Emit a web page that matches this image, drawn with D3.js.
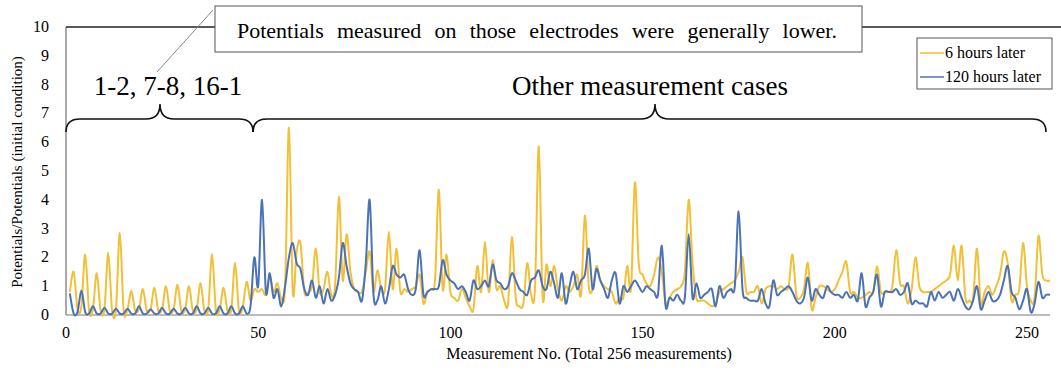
<!DOCTYPE html>
<html>
<head>
<meta charset="utf-8">
<script src="https://d3js.org/d3.v7.min.js"></script>
<style>
  body { margin: 0; background: #fff; }
  svg text { font-family: "Liberation Serif", "Times New Roman", serif; fill: #000; }
</style>
</head>
<body>
<div id="my_dataviz"></div>
<script>
var width = 1061
var height = 371

// 6 hours later (measurements 1..256)
var sixHours = [
  0.8,1.5,0.2,0.3,2.1,0.15,0.2,1.45,0.15,0.2,
  2.15,0.15,0.2,2.85,0.15,0.2,0.83,0.15,0.2,0.9,
  0.15,0.2,0.95,0.15,0.2,1.0,0.15,0.2,1.05,0.15,
  0.2,1.0,0.15,0.2,1.1,0.15,0.2,2.1,0.15,0.2,
  0.95,0.15,0.2,1.8,0.15,0.3,1.15,0.5,0.9,0.8,
  0.9,0.7,1.3,0.8,1.1,0.6,1.0,6.5,0.8,2.2,
  2.5,0.8,0.8,1.0,2.3,0.8,0.9,1.5,0.7,1.0,
  4.1,1.2,2.8,1.5,0.9,0.8,0.8,1.5,2.2,0.8,
  1.55,0.9,0.9,2.9,0.9,2.3,0.8,0.9,0.8,0.9,
  1.0,1.4,0.4,0.8,0.9,1.2,4.35,0.9,2.1,0.8,
  0.6,0.5,0.9,0.6,0.3,0.2,1.7,0.8,2.55,0.8,
  1.9,0.9,1.0,0.5,0.4,2.7,0.6,0.3,0.4,1.8,
  0.7,0.9,5.85,0.6,1.75,1.0,1.7,0.9,0.5,1.0,
  0.8,1.0,1.4,0.7,3.45,1.0,0.9,1.7,1.2,1.0,
  0.9,0.8,0.4,0.6,0.6,1.7,0.9,4.6,1.8,1.4,
  1.1,1.0,1.4,2.0,1.5,0.4,0.6,0.8,0.9,1.0,
  1.5,4.0,1.8,0.6,0.5,0.5,0.4,0.3,0.4,0.8,
  0.9,1.0,1.1,1.2,1.5,2.0,0.8,0.8,0.8,1.0,
  0.4,0.9,1.0,1.0,0.9,1.0,0.9,1.0,2.1,0.7,
  0.6,0.9,1.8,0.2,0.6,1.0,1.0,0.9,0.8,0.9,
  1.2,1.5,1.85,0.8,0.8,0.6,0.6,0.7,0.8,0.8,
  1.7,0.8,0.8,0.8,1.0,2.25,1.1,1.0,0.4,0.9,
  2.0,1.0,0.8,0.8,0.8,0.9,1.0,1.1,1.2,1.4,
  2.4,1.2,2.4,0.6,0.5,0.6,2.3,0.4,0.8,1.0,
  0.7,1.0,1.4,2.2,1.8,0.5,0.7,0.9,2.5,1.0,
  0.5,0.6,2.75,1.4,1.2,1.2
]

// 120 hours later
var hundredTwentyHours = [
  0.75,0.05,0.1,0.85,0.1,0.05,0.3,0.05,0.05,0.25,
  0.05,0.05,0.22,0.05,0.05,0.22,0.05,0.05,0.3,0.05,
  0.05,0.2,0.05,0.05,0.25,0.05,0.05,0.22,0.05,0.05,
  0.25,0.05,0.05,0.3,0.05,0.05,0.25,0.05,0.05,0.3,
  0.05,0.05,0.3,0.05,0.05,0.3,0.05,0.3,2.0,1.0,
  4.0,0.8,1.45,0.6,0.9,0.3,1.0,2.0,2.5,1.8,
  1.6,0.9,0.7,1.2,0.6,1.0,0.4,0.9,0.5,0.7,
  1.3,2.5,1.7,1.1,0.9,0.8,0.5,1.8,4.0,0.7,
  0.5,1.0,0.4,0.9,1.7,1.4,1.3,1.4,0.9,0.7,
  0.9,2.25,0.7,0.8,0.9,0.9,1.0,1.9,1.4,1.2,
  1.1,0.9,1.0,0.8,0.5,1.2,0.9,1.0,1.2,1.0,
  1.75,1.2,1.1,0.9,1.0,1.45,1.2,0.9,0.8,0.7,
  1.2,1.3,1.55,1.0,0.9,1.5,1.1,0.6,1.45,0.4,
  1.0,1.5,0.9,1.2,1.4,2.3,0.9,1.6,1.2,0.9,
  0.6,1.2,1.45,0.4,1.0,0.8,1.0,1.2,1.0,0.8,
  1.0,0.9,0.8,0.7,2.4,0.3,0.6,0.5,0.7,0.5,
  0.6,2.8,0.6,1.1,0.6,0.7,0.8,0.9,0.3,1.0,
  0.6,0.8,0.9,1.0,3.6,0.9,0.6,0.5,0.5,0.5,
  0.9,0.4,0.3,1.2,0.7,0.8,0.9,1.0,0.8,0.5,
  0.4,0.6,1.3,0.5,0.9,0.7,0.6,1.0,0.8,0.7,
  0.7,0.6,0.8,0.6,0.7,0.5,1.45,0.3,0.6,0.8,
  1.4,0.3,0.8,0.8,0.8,0.9,0.7,0.8,1.1,0.4,
  0.5,0.4,0.4,0.3,0.8,0.5,0.8,0.6,0.7,0.8,
  0.5,0.9,0.6,0.3,0.2,0.5,1.0,0.2,0.5,0.8,
  0.5,0.5,0.7,1.2,1.7,0.8,0.6,0.2,0.5,0.9,
  0.1,0.4,1.15,0.6,0.7,0.7
]

var seriesNames = ["6 hours later", "120 hours later"]
var seriesColors = ["#F2C037", "#4A72B8"]
var xTicks = [0, 50, 100, 150, 200, 250]
var yTicks = [0, 1, 2, 3, 4, 5, 6, 7, 8, 9, 10]

var svg = d3.select("#my_dataviz")
  .append("svg")
    .attr("width", width)
    .attr("height", height)
    .attr("font-family", "Liberation Serif, serif")

var x = d3.scaleLinear().domain([0, 256]).range([66, 1050])
var y = d3.scaleLinear().domain([0, 10]).range([315, 27])

// axes (gray lines, no tick marks)
svg.append("line")
  .attr("x1", x(0)).attr("x2", x(256))
  .attr("y1", y(0)).attr("y2", y(0))
  .attr("stroke", "#a6a6a6").attr("stroke-width", 1.5)

svg.append("line")
  .attr("x1", x(0)).attr("x2", x(0))
  .attr("y1", y(0)).attr("y2", y(10))
  .attr("stroke", "#8c8c8c").attr("stroke-width", 1.5)

svg.selectAll(".ytick")
  .data(yTicks)
  .enter().append("text")
    .attr("class", "ytick")
    .attr("x", 49)
    .attr("y", function(d){ return y(d) + 5 })
    .attr("text-anchor", "end")
    .style("font-size", "16px")
    .text(function(d){ return d })

svg.selectAll(".xtick")
  .data(xTicks)
  .enter().append("text")
    .attr("class", "xtick")
    .attr("x", function(d){ return x(d) })
    .attr("y", 338)
    .attr("text-anchor", "middle")
    .style("font-size", "16px")
    .text(function(d){ return d })

svg.append("text")
  .attr("x", 589)
  .attr("y", 359)
  .attr("text-anchor", "middle")
  .style("font-size", "16px")
  .text("Measurement No. (Total 256 measurements)")

svg.append("text")
  .attr("transform", "translate(22," + 172 + ") rotate(-90)")
  .attr("text-anchor", "middle")
  .style("font-size", "15px")
  .text("Potentials/Potentials (initial condition)")

// top frame line
svg.append("path")
  .attr("d", "M" + x(0) + "," + y(10) + " L1061," + y(10))
  .attr("stroke", "#222").attr("stroke-width", 1.5).attr("fill", "none")

// data lines
var line = d3.line()
  .x(function(d, i){ return x(i + 1) })
  .y(function(d){ return y(d) })
  .curve(d3.curveCardinal.tension(0))

svg.append("path")
  .datum(sixHours)
  .attr("d", line)
  .attr("fill", "none")
  .attr("stroke", seriesColors[0])
  .attr("stroke-width", 2)

svg.append("path")
  .datum(hundredTwentyHours)
  .attr("d", line)
  .attr("fill", "none")
  .attr("stroke", seriesColors[1])
  .attr("stroke-width", 2)

// curly braces
function brace(x1, x2, cx, yEnd, yMid, yTip) {
  var r = 14
  return "M" + x1 + "," + yEnd +
    " Q" + x1 + "," + yMid + " " + (x1 + r) + "," + yMid +
    " L" + (cx - r) + "," + yMid +
    " Q" + cx + "," + yMid + " " + cx + "," + yTip +
    " Q" + cx + "," + yMid + " " + (cx + r) + "," + yMid +
    " L" + (x2 - r) + "," + yMid +
    " Q" + x2 + "," + yMid + " " + x2 + "," + yEnd
}

svg.append("path")
  .attr("d", brace(66, 253, 160, 132, 119, 104))
  .attr("fill", "none").attr("stroke", "#111").attr("stroke-width", 1.6)

svg.append("path")
  .attr("d", brace(253, 1046, 655, 132, 119, 104))
  .attr("fill", "none").attr("stroke", "#111").attr("stroke-width", 1.6)

svg.append("text")
  .attr("x", 168).attr("y", 95)
  .attr("text-anchor", "middle")
  .style("font-size", "27px")
  .text("1-2, 7-8, 16-1")

svg.append("text")
  .attr("x", 650).attr("y", 95)
  .attr("text-anchor", "middle")
  .style("font-size", "27px")
  .text("Other measurement cases")

// callout
svg.append("line")
  .attr("x1", 213).attr("y1", 10)
  .attr("x2", 157).attr("y2", 72)
  .attr("stroke", "#888").attr("stroke-width", 1)

svg.append("rect")
  .attr("x", 215).attr("y", 6)
  .attr("width", 647).attr("height", 46)
  .attr("fill", "#fff")
  .attr("stroke", "#555").attr("stroke-width", 1)

var callout = svg.append("text")
  .attr("x", 237).attr("y", 38)
  .style("font-size", "22px")
  .text("Potentials measured on those electrodes were generally lower.")
// spread words to fill the box like justified text
var natural = callout.node().getComputedTextLength()
callout.style("word-spacing", ((600 - natural) / 7) + "px")

// legend
var legend = svg.append("g")
legend.append("rect")
  .attr("x", 917).attr("y", 38)
  .attr("width", 135).attr("height", 51)
  .attr("fill", "#fff")
  .attr("stroke", "#555").attr("stroke-width", 1)

var item = legend.selectAll(".item")
  .data(seriesNames)
  .enter().append("g")
    .attr("class", "item")
    .attr("transform", function(d, i){ return "translate(0," + (53 + i * 24) + ")" })

item.append("line")
  .attr("x1", 920).attr("x2", 944)
  .attr("y1", 0).attr("y2", 0)
  .attr("stroke", function(d, i){ return seriesColors[i] })
  .attr("stroke-width", 1.5)

item.append("text")
  .attr("x", 945).attr("y", 5)
  .style("font-size", "16px")
  .text(function(d){ return d })
</script>
</body>
</html>
